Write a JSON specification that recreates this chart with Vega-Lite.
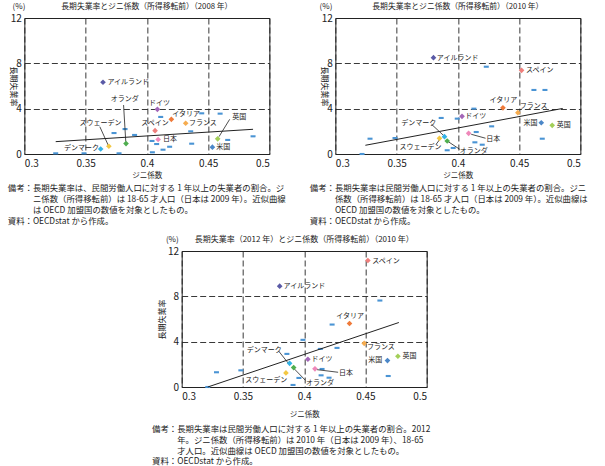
{
"$schema": "https://vega.github.io/schema/vega-lite/v6.json",
"padding": {"left": 7, "top": 2, "right": 2, "bottom": 2},
"background": "white",
"datasets": {
"p1o": [{"gini":0.3256,"rate":0.06},{"gini":0.3487,"rate":0.06},{"gini":0.3732,"rate":1.85},{"gini":0.3773,"rate":0.06},{"gini":0.3822,"rate":2.2},{"gini":0.39,"rate":1.68},{"gini":0.4042,"rate":1.15},{"gini":0.4045,"rate":0.15},{"gini":0.408,"rate":0.88},{"gini":0.4113,"rate":3.27},{"gini":0.4132,"rate":0.38},{"gini":0.4186,"rate":0.64},{"gini":0.4358,"rate":2.0},{"gini":0.4366,"rate":0.91},{"gini":0.4448,"rate":3.59},{"gini":0.4598,"rate":3.56},{"gini":0.466,"rate":1.24},{"gini":0.4867,"rate":1.56}],
"p1n": [
{"country":"アイルランド","gini":0.3642,"rate":6.33,"lx":0.3678,"ly":6.33},
{"country":"オランダ","gini":0.383,"rate":0.92,"lx":0.3705,"ly":4.83},
{"country":"スウェーデン","gini":0.369,"rate":0.68,"lx":0.345,"ly":2.74},
{"country":"デンマーク","gini":0.3623,"rate":0.44,"lx":0.3324,"ly":0.5},
{"country":"ドイツ","gini":0.4086,"rate":3.94,"lx":0.4017,"ly":4.53},
{"country":"イタリア","gini":0.42,"rate":3.06,"lx":0.4208,"ly":3.53},
{"country":"スペイン","gini":0.4067,"rate":2.06,"lx":0.3955,"ly":2.76},
{"country":"フランス","gini":0.4317,"rate":2.71,"lx":0.4344,"ly":2.71},
{"country":"日本","gini":0.4092,"rate":1.28,"lx":0.4132,"ly":1.3},
{"country":"英国","gini":0.4578,"rate":1.34,"lx":0.4698,"ly":3.29},
{"country":"米国","gini":0.4535,"rate":0.6,"lx":0.4567,"ly":0.6}],
"p1l": [{"x1":0.381,"y1":4.32,"x2":0.3828,"y2":1.09},{"x1":0.3616,"y1":2.41,"x2":0.3684,"y2":0.79},{"x1":0.4676,"y1":3.06,"x2":0.4589,"y2":1.53}],
"p1t": [{"gini":0.3256,"rate":1.09},{"gini":0.4867,"rate":2.18}],
"p2o": [{"gini":0.3218,"rate":0.0},{"gini":0.3283,"rate":1.35},{"gini":0.3487,"rate":1.41},{"gini":0.3864,"rate":3.18},{"gini":0.3995,"rate":3.12},{"gini":0.3913,"rate":0.33},{"gini":0.3962,"rate":0.53},{"gini":0.4131,"rate":4.0},{"gini":0.415,"rate":1.94},{"gini":0.4139,"rate":1.03},{"gini":0.4199,"rate":0.82},{"gini":0.4232,"rate":7.7},{"gini":0.4276,"rate":2.44},{"gini":0.4621,"rate":5.65},{"gini":0.4711,"rate":5.65},{"gini":0.4689,"rate":1.35}],
"p2n": [
{"country":"アイルランド","gini":0.3801,"rate":8.5,"lx":0.3828,"ly":8.5},
{"country":"スペイン","gini":0.452,"rate":7.38,"lx":0.4556,"ly":7.38},
{"country":"イタリア","gini":0.4368,"rate":4.07,"lx":0.4259,"ly":4.77},
{"country":"フランス","gini":0.449,"rate":3.65,"lx":0.4505,"ly":4.2},
{"country":"ドイツ","gini":0.4034,"rate":3.32,"lx":0.406,"ly":3.32},
{"country":"米国","gini":0.4681,"rate":2.76,"lx":0.4536,"ly":2.76},
{"country":"英国","gini":0.477,"rate":2.53,"lx":0.4807,"ly":2.53},
{"country":"日本","gini":0.4088,"rate":1.82,"lx":0.4232,"ly":1.32},
{"country":"デンマーク","gini":0.3891,"rate":1.53,"lx":0.3537,"ly":2.71},
{"country":"スウェーデン","gini":0.385,"rate":1.38,"lx":0.3523,"ly":0.65},
{"country":"オランダ","gini":0.3913,"rate":1.15,"lx":0.4016,"ly":0.3}],
"p2l": [{"x1":0.3785,"y1":2.62,"x2":0.3894,"y2":1.53},{"x1":0.3913,"y1":1.15,"x2":0.4016,"y2":0.41},{"x1":0.3823,"y1":0.86,"x2":0.3855,"y2":1.32},{"x1":0.4109,"y1":1.74,"x2":0.4226,"y2":1.39}],
"p2t": [{"gini":0.3245,"rate":0.77},{"gini":0.4856,"rate":4.02}],
"p3o": [{"gini":0.3213,"rate":0.0},{"gini":0.3284,"rate":1.3},{"gini":0.3483,"rate":1.47},{"gini":0.3859,"rate":2.92},{"gini":0.399,"rate":4.16},{"gini":0.4132,"rate":3.36},{"gini":0.4268,"rate":3.45},{"gini":0.4228,"rate":5.51},{"gini":0.4618,"rate":7.63},{"gini":0.3909,"rate":0.18},{"gini":0.3957,"rate":0.8},{"gini":0.4138,"rate":1.03},{"gini":0.4146,"rate":1.59},{"gini":0.4203,"rate":0.82},{"gini":0.4686,"rate":0.97}],
"p3n": [
{"country":"スペイン","gini":0.452,"rate":11.16,"lx":0.4555,"ly":11.16},
{"country":"アイルランド","gini":0.38,"rate":8.9,"lx":0.3832,"ly":8.9},
{"country":"イタリア","gini":0.437,"rate":5.6,"lx":0.4262,"ly":6.25},
{"country":"フランス","gini":0.449,"rate":3.85,"lx":0.4512,"ly":3.52},
{"country":"英国","gini":0.4765,"rate":2.71,"lx":0.4803,"ly":2.71},
{"country":"米国","gini":0.468,"rate":2.33,"lx":0.4524,"ly":2.38},
{"country":"ドイツ","gini":0.403,"rate":2.45,"lx":0.406,"ly":2.48},
{"country":"日本","gini":0.4088,"rate":1.6,"lx":0.4285,"ly":1.27},
{"country":"デンマーク","gini":0.3881,"rate":2.09,"lx":0.3532,"ly":3.3},
{"country":"スウェーデン","gini":0.3851,"rate":1.24,"lx":0.3519,"ly":0.65},
{"country":"オランダ","gini":0.3914,"rate":1.71,"lx":0.4015,"ly":0.35}],
"p3l": [{"x1":0.3791,"y1":3.18,"x2":0.3873,"y2":2.06},{"x1":0.3912,"y1":1.68,"x2":0.401,"y2":0.59},{"x1":0.4105,"y1":1.53,"x2":0.4277,"y2":1.3}],
"p3t": [{"gini":0.3213,"rate":0.0},{"gini":0.4773,"rate":5.69}],
"unit": [{"u":"(%)"}]
},
"vconcat": [
{"hconcat": [
{"title": {"text": ["備考：長期失業率は、民間労働人口に対する 1 年以上の失業者の割合。ジ","\u200b　　　ニ係数（所得移転前）は 18-65 才人口（日本は 2009 年）。近似曲線","\u200b　　　は OECD 加盟国の数値を対象としたもの。","資料：OECDstat から作成。"], "orient": "bottom", "anchor": "start", "frame": "bounds", "fontSize": 8.4, "lineHeight": 11.1, "offset": 5},
 "vconcat": [{
  "width": 245, "height": 136,
  "title": {"text": "長期失業率とジニ係数（所得移転前）（2008 年）", "fontSize": 7.8, "anchor": "middle", "frame": "group", "offset": -8},
  "layer": [
   {"data": {"name": "p1o"}, "mark": {"type": "point", "shape": "M-1,-0.42L1,-0.42L1,0.42L-1,0.42Z", "filled": true, "size": 25, "color": "#4a94d4", "opacity": 1, "strokeWidth": 0},
    "encoding": {"x": {"field": "gini", "type": "quantitative", "title": "ジニ係数", "scale": {"domain": [0.3, 0.5], "nice": false, "zero": false}, "axis": {"values": [0.3, 0.35, 0.4, 0.45, 0.5], "format": "~g", "labelPadding": 4, "titlePadding": 3, "titleFontSize": 7.5}},
     "y": {"field": "rate", "type": "quantitative", "title": "長期失業率", "scale": {"domain": [0, 12], "nice": false}, "axis": {"values": [0, 4, 8, 12], "labelPadding": 3, "titlePadding": 2, "titleAngle": 90, "titleFontSize": 8}}}},
   {"data": {"name": "p1t"}, "mark": {"type": "line", "color": "#222", "strokeWidth": 1}, "encoding": {"x": {"field": "gini", "type": "quantitative", "title": "ジニ係数"}, "y": {"field": "rate", "type": "quantitative", "title": "長期失業率"}}},
   {"data": {"name": "p1l"}, "mark": {"type": "rule", "color": "#222", "strokeWidth": 0.8}, "encoding": {"x": {"field": "x1", "type": "quantitative", "title": "ジニ係数"}, "y": {"field": "y1", "type": "quantitative", "title": "長期失業率"}, "x2": {"field": "x2"}, "y2": {"field": "y2"}}},
   {"data": {"name": "p1n"}, "mark": {"type": "point", "shape": "diamond", "filled": true, "size": 32, "opacity": 1},
    "encoding": {"x": {"field": "gini", "type": "quantitative", "title": "ジニ係数"}, "y": {"field": "rate", "type": "quantitative", "title": "長期失業率"},
     "color": {"field": "country", "type": "nominal", "legend": null, "scale": {"domain": ["アイルランド","オランダ","スウェーデン","デンマーク","ドイツ","イタリア","スペイン","フランス","日本","英国","米国"], "range": ["#5a5aa6","#4fae4f","#f3c843","#33b2e6","#a366b8","#ef7a3a","#ef7f7c","#f6ac4f","#ef88ba","#a3cf58","#4b87c8"]}}}},
   {"data": {"name": "p1n"}, "mark": {"type": "text", "align": "left", "baseline": "middle", "fontSize": 7, "color": "#222"},
    "encoding": {"x": {"field": "lx", "type": "quantitative", "title": "ジニ係数"}, "y": {"field": "ly", "type": "quantitative", "title": "長期失業率"}, "text": {"field": "country"}}},
   {"data": {"name": "unit"}, "mark": {"type": "text", "align": "right", "baseline": "middle", "fontSize": 8, "dx": 1, "dy": -11, "color": "#222"},
    "encoding": {"x": {"datum": 0.3, "type": "quantitative"}, "y": {"datum": 12, "type": "quantitative"}, "text": {"field": "u"}}}
  ]
 }]},
{"title": {"text": ["備考：長期失業率は民間労働人口に対する 1 年以上の失業者の割合。ジニ","\u200b　　　係数（所得移転前）は 18-65 才人口（日本は 2009 年）。近似曲線は","\u200b　　　OECD 加盟国の数値を対象としたもの。","資料：OECDstat から作成。"], "orient": "bottom", "anchor": "start", "frame": "bounds", "fontSize": 8.4, "lineHeight": 11.1, "offset": 5, "dx": -9},
 "vconcat": [{
  "width": 245, "height": 136,
  "title": {"text": "長期失業率とジニ係数（所得移転前）（2010 年）", "fontSize": 7.8, "anchor": "middle", "frame": "group", "offset": -8},
  "layer": [
   {"data": {"name": "p2o"}, "mark": {"type": "point", "shape": "M-1,-0.42L1,-0.42L1,0.42L-1,0.42Z", "filled": true, "size": 25, "color": "#4a94d4", "opacity": 1, "strokeWidth": 0},
    "encoding": {"x": {"field": "gini", "type": "quantitative", "title": "ジニ係数", "scale": {"domain": [0.3, 0.5], "nice": false, "zero": false}, "axis": {"values": [0.3, 0.35, 0.4, 0.45, 0.5], "format": "~g", "labelPadding": 4, "titlePadding": 3, "titleFontSize": 7.5}},
     "y": {"field": "rate", "type": "quantitative", "title": "長期失業率", "scale": {"domain": [0, 12], "nice": false}, "axis": {"values": [0, 4, 8, 12], "labelPadding": 3, "titlePadding": 2, "titleAngle": 90, "titleFontSize": 8}}}},
   {"data": {"name": "p2t"}, "mark": {"type": "line", "color": "#222", "strokeWidth": 1}, "encoding": {"x": {"field": "gini", "type": "quantitative", "title": "ジニ係数"}, "y": {"field": "rate", "type": "quantitative", "title": "長期失業率"}}},
   {"data": {"name": "p2l"}, "mark": {"type": "rule", "color": "#222", "strokeWidth": 0.8}, "encoding": {"x": {"field": "x1", "type": "quantitative", "title": "ジニ係数"}, "y": {"field": "y1", "type": "quantitative", "title": "長期失業率"}, "x2": {"field": "x2"}, "y2": {"field": "y2"}}},
   {"data": {"name": "p2n"}, "mark": {"type": "point", "shape": "diamond", "filled": true, "size": 32, "opacity": 1},
    "encoding": {"x": {"field": "gini", "type": "quantitative", "title": "ジニ係数"}, "y": {"field": "rate", "type": "quantitative", "title": "長期失業率"},
     "color": {"field": "country", "type": "nominal", "legend": null, "scale": {"domain": ["アイルランド","オランダ","スウェーデン","デンマーク","ドイツ","イタリア","スペイン","フランス","日本","英国","米国"], "range": ["#5a5aa6","#4fae4f","#f3c843","#33b2e6","#a366b8","#ef7a3a","#ef7f7c","#f6ac4f","#ef88ba","#a3cf58","#4b87c8"]}}}},
   {"data": {"name": "p2n"}, "mark": {"type": "text", "align": "left", "baseline": "middle", "fontSize": 7, "color": "#222"},
    "encoding": {"x": {"field": "lx", "type": "quantitative", "title": "ジニ係数"}, "y": {"field": "ly", "type": "quantitative", "title": "長期失業率"}, "text": {"field": "country"}}},
   {"data": {"name": "unit"}, "mark": {"type": "text", "align": "right", "baseline": "middle", "fontSize": 8, "dx": -3, "dy": -11, "color": "#222"},
    "encoding": {"x": {"datum": 0.3, "type": "quantitative"}, "y": {"datum": 12, "type": "quantitative"}, "text": {"field": "u"}}}
  ]
 }]}
], "spacing": 23},
{"title": {"text": ["備考：長期失業率は民間労働人口に対する 1 年以上の失業者の割合。2012","\u200b　　　年。ジニ係数（所得移転前）は 2010 年（日本は 2009 年）、18-65","\u200b　　　才人口。近似曲線は OECD 加盟国の数値を対象としたもの。","資料：OECDstat から作成。"], "orient": "bottom", "anchor": "start", "frame": "bounds", "fontSize": 8.4, "lineHeight": 10.8, "offset": 7, "dx": -6},
 "vconcat": [{
  "width": 245, "height": 136,
  "title": {"text": "長期失業率（2012 年）とジニ係数（所得移転前）（2010 年）", "fontSize": 8, "anchor": "middle", "frame": "group", "offset": -8},
  "layer": [
   {"data": {"name": "p3o"}, "mark": {"type": "point", "shape": "M-1,-0.42L1,-0.42L1,0.42L-1,0.42Z", "filled": true, "size": 25, "color": "#4a94d4", "opacity": 1, "strokeWidth": 0},
    "encoding": {"x": {"field": "gini", "type": "quantitative", "title": "ジニ係数", "scale": {"domain": [0.3, 0.5], "nice": false, "zero": false}, "axis": {"values": [0.3, 0.35, 0.4, 0.45, 0.5], "format": "~g", "labelPadding": 4, "titlePadding": 9, "titleFontSize": 7.5}},
     "y": {"field": "rate", "type": "quantitative", "title": "長期失業率", "scale": {"domain": [0, 12], "nice": false}, "axis": {"values": [0, 4, 8, 12], "labelPadding": 3, "titlePadding": 1, "titleFontSize": 8}}}},
   {"data": {"name": "p3t"}, "mark": {"type": "line", "color": "#222", "strokeWidth": 1}, "encoding": {"x": {"field": "gini", "type": "quantitative", "title": "ジニ係数"}, "y": {"field": "rate", "type": "quantitative", "title": "長期失業率"}}},
   {"data": {"name": "p3l"}, "mark": {"type": "rule", "color": "#222", "strokeWidth": 0.8}, "encoding": {"x": {"field": "x1", "type": "quantitative", "title": "ジニ係数"}, "y": {"field": "y1", "type": "quantitative", "title": "長期失業率"}, "x2": {"field": "x2"}, "y2": {"field": "y2"}}},
   {"data": {"name": "p3n"}, "mark": {"type": "point", "shape": "diamond", "filled": true, "size": 32, "opacity": 1},
    "encoding": {"x": {"field": "gini", "type": "quantitative", "title": "ジニ係数"}, "y": {"field": "rate", "type": "quantitative", "title": "長期失業率"},
     "color": {"field": "country", "type": "nominal", "legend": null, "scale": {"domain": ["アイルランド","オランダ","スウェーデン","デンマーク","ドイツ","イタリア","スペイン","フランス","日本","英国","米国"], "range": ["#5a5aa6","#4fae4f","#f3c843","#33b2e6","#a366b8","#ef7a3a","#ef7f7c","#f6ac4f","#ef88ba","#a3cf58","#4b87c8"]}}}},
   {"data": {"name": "p3n"}, "mark": {"type": "text", "align": "left", "baseline": "middle", "fontSize": 7, "color": "#222"},
    "encoding": {"x": {"field": "lx", "type": "quantitative", "title": "ジニ係数"}, "y": {"field": "ly", "type": "quantitative", "title": "長期失業率"}, "text": {"field": "country"}}},
   {"data": {"name": "unit"}, "mark": {"type": "text", "align": "right", "baseline": "middle", "fontSize": 8, "dx": -3, "dy": -11, "color": "#222"},
    "encoding": {"x": {"datum": 0.3, "type": "quantitative"}, "y": {"datum": 12, "type": "quantitative"}, "text": {"field": "u"}}}
  ]
 }]}
],
"spacing": 9,
"center": true,
"config": {
 "font": "Noto Sans CJK JP",
 "view": {"stroke": "#222", "strokeWidth": 1},
 "axis": {"domain": false, "ticks": false, "grid": true, "gridColor": "#222", "gridDash": [6, 3], "gridWidth": 0.9, "labelFont": "Noto Sans CJK JP", "labelFontSize": 10, "labelColor": "#222", "titleFont": "Noto Sans CJK JP", "titleFontWeight": "normal", "titleColor": "#222"},
 "title": {"font": "Noto Sans CJK JP", "fontWeight": "normal", "color": "#222"},
 "text": {"font": "Noto Sans CJK JP"}
}
}
